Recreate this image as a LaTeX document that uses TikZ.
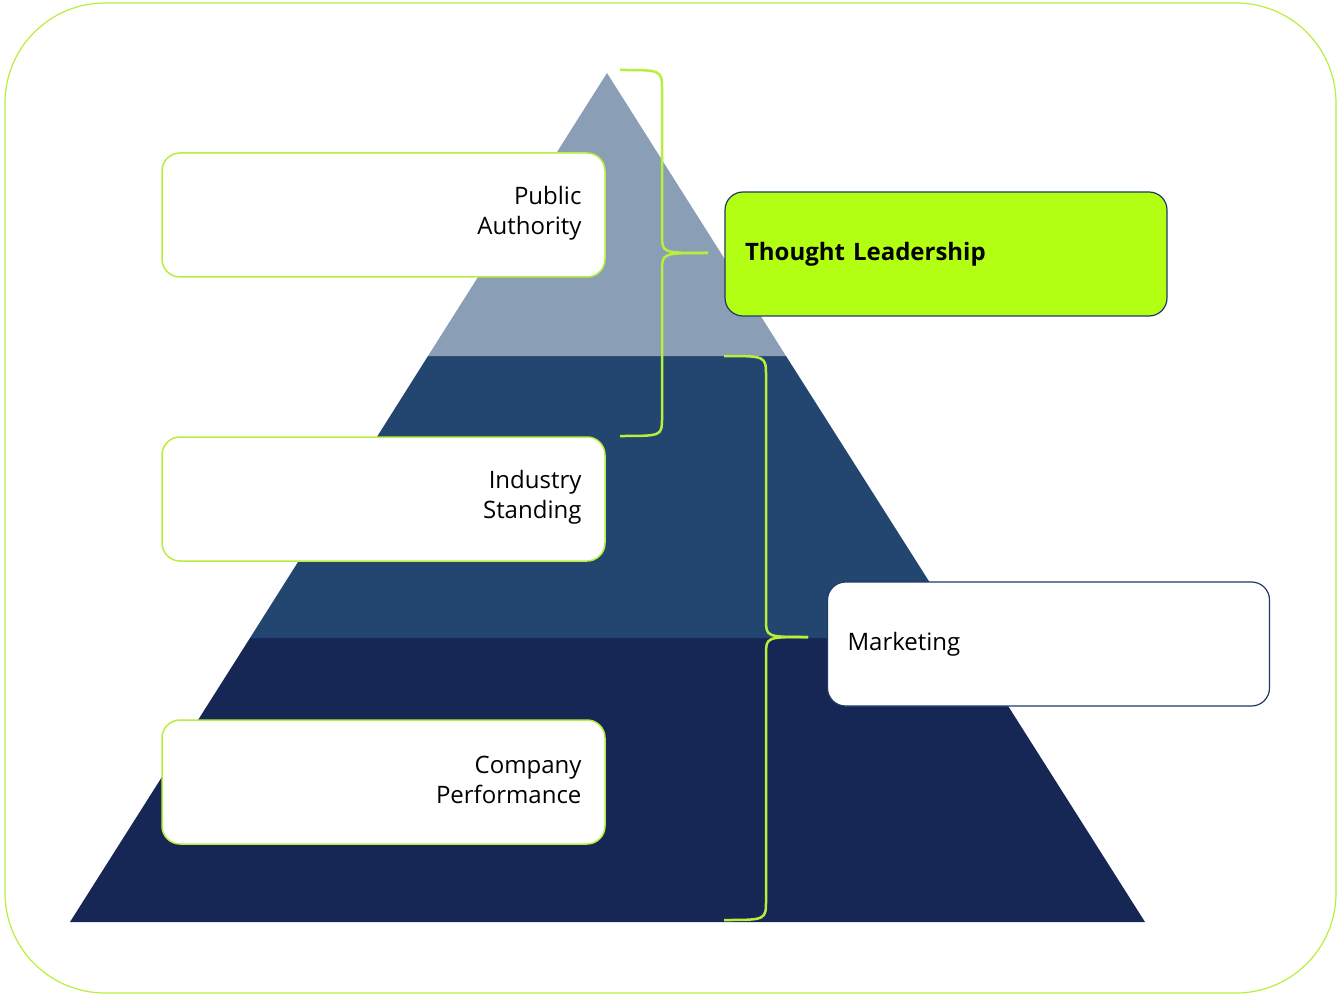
\documentclass[tikz,border=0pt]{standalone}
\usepackage{fontspec}
\setmainfont{Open Sans}
\begin{document}
\begin{tikzpicture}[x=1pt,y=-1pt]
\definecolor{lg}{HTML}{B8EE3C}
\definecolor{tl}{HTML}{B2FF14}
\definecolor{c1}{HTML}{8A9FB6}
\definecolor{c2}{HTML}{22466F}
\definecolor{c3}{HTML}{162756}
\definecolor{db}{HTML}{1F3A64}
\tikzset{lbox/.style={draw=lg,line width=1.5pt,fill=white,rounded corners=18pt,minimum width=443pt,minimum height=124pt,align=right,font=\fontsize{24}{28}\selectfont,inner sep=0pt},
rbox/.style={draw=db,line width=1.2pt,rounded corners=18pt,minimum width=442pt,minimum height=124pt,align=left,text width=402pt,font=\fontsize{24}{28}\selectfont},
brace/.style={draw=lg,line width=2.5pt}}
\useasboundingbox (0,0) rectangle (1341,1000);
\draw[lg,line width=1.2pt,rounded corners=100pt] (5,3) rectangle (1336,993);
\fill[c3] (70,922) -- (250,638) -- (965,638) -- (1145,922) -- cycle;
\fill[c2] (250,638) -- (428,356) -- (786,356) -- (965,638) -- cycle;
\fill[c1] (428,356) -- (607,73) -- (786,356) -- cycle;
\node[lbox] (pa) at (383.5,215) {};
\node[anchor=east,align=right,font=\fontsize{24}{30}\selectfont] (pat) at (585,213) {Public\\Authority};
\node[lbox] (is) at (383.5,499) {};
\node[anchor=east,align=right,font=\fontsize{24}{30}\selectfont] (ist) at (585,497) {Industry\\Standing};
\node[lbox] (cp) at (383.5,782) {};
\node[anchor=east,align=right,font=\fontsize{24}{30}\selectfont] (cpt) at (585,780) {Company\\Performance};
\node[rbox,fill=tl] (tlb) at (946,254) {\textbf{Thought Leadership}};
\node[rbox,fill=white] (mk) at (1048.5,644) {Marketing};
\coordinate (b1) at (708,253);
\coordinate (b2) at (808,637);
\draw[brace] (620,70) .. controls (662,70) .. (662,90) -- (662,235) .. controls (662,253) .. (b1);
\draw[brace] (b1) .. controls (662,253) .. (662,271) -- (662,418) .. controls (662,436) .. (620,436);
\draw[brace] (724,356) .. controls (766,356) .. (766,376) -- (766,619) .. controls (766,637) .. (b2);
\draw[brace] (b2) .. controls (766,637) .. (766,655) -- (766,900) .. controls (766,920) .. (724,920);
\end{tikzpicture}
\end{document}
